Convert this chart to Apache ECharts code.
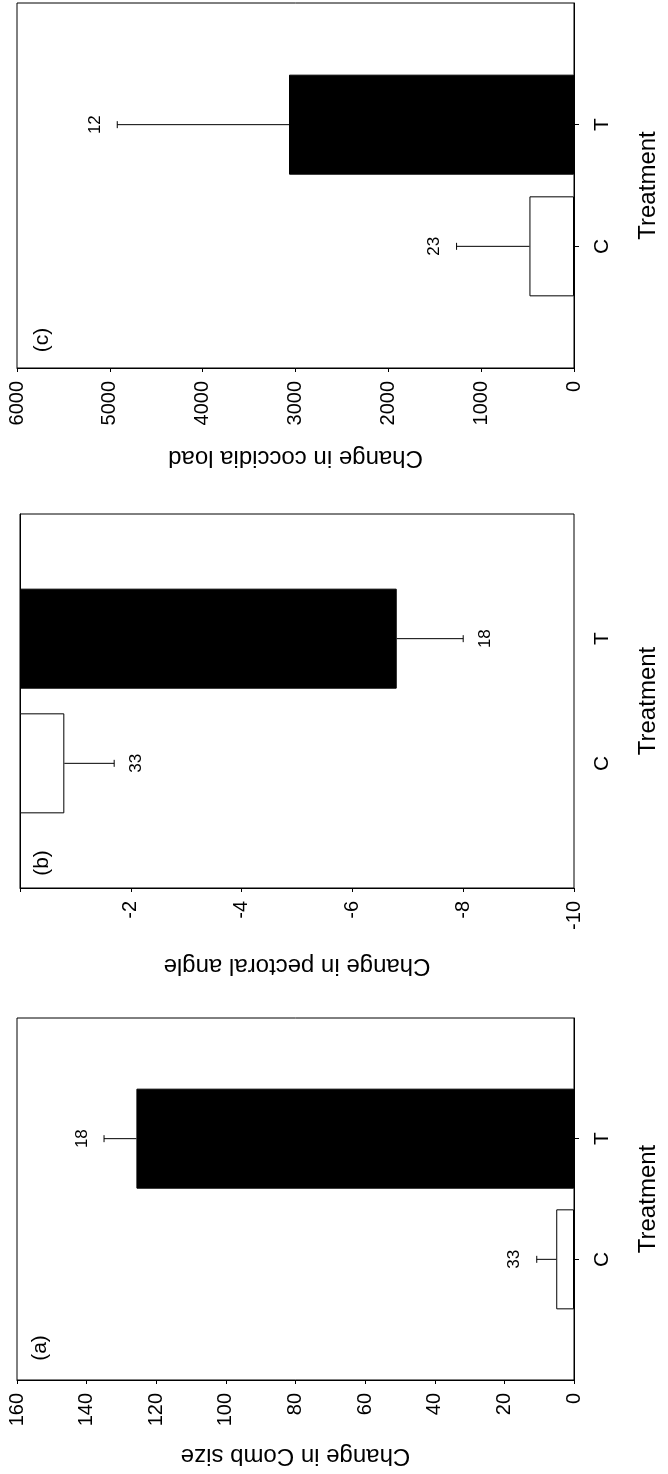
<!DOCTYPE html>
<html>
<head>
<meta charset="utf-8">
<script src="https://cdn.jsdelivr.net/npm/echarts@6/dist/echarts.min.js"></script>
<style>
html,body{margin:0;padding:0;background:#fff;}
#chart{width:668px;height:1474px;}
</style>
</head>
<body>
<div id="chart"></div>
<script>
// ---- data ----
const categories = ['', 'C', 'T', ''];
const groups = ['C', 'T'];

const combMeans = [5.1, 125.7];
const combErr = [5.6, 9.3];
const combN = [33, 18];
const combAxis = [0, 160, 20];

const pectoralMeans = [-0.8, -6.8];
const pectoralErr = [0.9, 1.2];
const pectoralN = [33, 18];
const pectoralAxis = [-10, 0, 2];

const coccidiaMeans = [480, 3070];
const coccidiaErr = [785, 1850];
const coccidiaN = [23, 12];
const coccidiaAxis = [0, 6000, 1000];

const axisTitles = ['Change in coccidia load', 'Change in pectoral angle', 'Change in Comb size'];
const panelLabels = ['(c)', '(b)', '(a)'];
const catTitle = 'Treatment';

// ---- layout / style ----
const FONT = '"Liberation Sans", Arial, Helvetica, sans-serif';
const panels = [
  {means: coccidiaMeans, err: coccidiaErr, n: coccidiaN, axis: coccidiaAxis, grid: {left: 17, right: 86, top: 3, height: 365}, nameGap: 78, hideZero: false, lab: [42, 340]},
  {means: pectoralMeans, err: pectoralErr, n: pectoralN, axis: pectoralAxis, grid: {left: 20, right: 83, top: 514, height: 374}, nameGap: 66, hideZero: true, lab: [42, 863]},
  {means: combMeans, err: combErr, n: combN, axis: combAxis, grid: {left: 17, right: 85, top: 1018, height: 362}, nameGap: 64, hideZero: false, lab: [40, 1348]}
];
const barFill = ['#ffffff', '#000000'];

function errRender(params, api) {
  const v = api.value(0), cat = api.value(1), e = api.value(2), n = api.value(3);
  const dir = v < 0 ? -1 : 1;
  const p0 = api.coord([v, cat]);
  const p1 = api.coord([v + dir * e, cat]);
  const sdir = Math.sign(p1[0] - p0[0]) || 1;
  const cap = 3.5;
  return {
    type: 'group',
    children: [
      {type: 'line', shape: {x1: p0[0], y1: p0[1], x2: p1[0], y2: p1[1]}, style: {stroke: '#000', lineWidth: 1}},
      {type: 'line', shape: {x1: p1[0], y1: p1[1] - cap, x2: p1[0], y2: p1[1] + cap}, style: {stroke: '#000', lineWidth: 1}},
      {type: 'text', x: p1[0] + sdir * 22, y: p1[1], rotation: Math.PI / 2,
        style: {text: String(n), fontSize: 17, fontFamily: FONT, fill: '#000', align: 'center', verticalAlign: 'middle', textAlign: 'center', textVerticalAlign: 'middle'}}
    ]
  };
}

const grid = [], xAxis = [], yAxis = [], series = [], graphic = [];
panels.forEach((p, i) => {
  grid.push(Object.assign({show: true, borderColor: '#000', borderWidth: 1, backgroundColor: '#fff'}, p.grid));
  xAxis.push({
    gridIndex: i, type: 'value', min: p.axis[0], max: p.axis[1], interval: p.axis[2], inverse: true,
    position: 'bottom',
    name: axisTitles[i], nameLocation: 'middle', nameRotate: 180, nameGap: p.nameGap,
    nameTextStyle: {fontSize: 24, fontFamily: FONT, color: '#000'},
    axisLine: {show: true, lineStyle: {color: '#000', width: 1}},
    axisTick: {show: true, length: 4, inside: false, lineStyle: {color: '#000'}},
    splitLine: {show: false},
    axisLabel: {rotate: 90, margin: 13, fontSize: 20, fontFamily: FONT, color: '#000',
      formatter: (val) => (p.hideZero && val === 0) ? '' : String(val)}
  });
  yAxis.push({
    gridIndex: i, type: 'category', data: categories, boundaryGap: false, position: 'right',
    name: catTitle, nameLocation: 'middle', nameRotate: 90, nameGap: 62,
    nameTextStyle: {fontSize: 24, fontFamily: FONT, color: '#000'},
    axisLine: {show: true, lineStyle: {color: '#000', width: 1}},
    axisTick: {show: true, length: 5, interval: (idx, val) => val !== '', lineStyle: {color: '#000'}},
    splitLine: {show: false},
    axisLabel: {rotate: 90, margin: 18, fontSize: 21, fontFamily: FONT, color: '#000', interval: 0}
  });
  const barData = categories.map((c) => {
    const k = groups.indexOf(c);
    if (k < 0) return '-';
    return {value: p.means[k], itemStyle: {color: barFill[k], borderColor: '#000', borderWidth: 1}};
  });
  series.push({
    type: 'bar', xAxisIndex: i, yAxisIndex: i, data: barData, barWidth: 100, silent: true,
    animation: false
  });
  series.push({
    type: 'custom', xAxisIndex: i, yAxisIndex: i, renderItem: errRender, animation: false,
    encode: {x: 0, y: 1}, silent: true, z: 5,
    data: groups.map((g, k) => [p.means[k], categories.indexOf(g), p.err[k], p.n[k]])
  });
  graphic.push({type: 'text', x: p.lab[0], y: p.lab[1], rotation: Math.PI / 2, z: 10,
    style: {text: panelLabels[i], fontSize: 21, fontFamily: FONT, fill: '#000', align: 'center', verticalAlign: 'middle'}});
});

const chart = echarts.init(document.getElementById('chart'), null, {renderer: 'canvas'});
chart.setOption({
  backgroundColor: '#fff',
  animation: false,
  grid, xAxis, yAxis, series, graphic
});
</script>
</body>
</html>
